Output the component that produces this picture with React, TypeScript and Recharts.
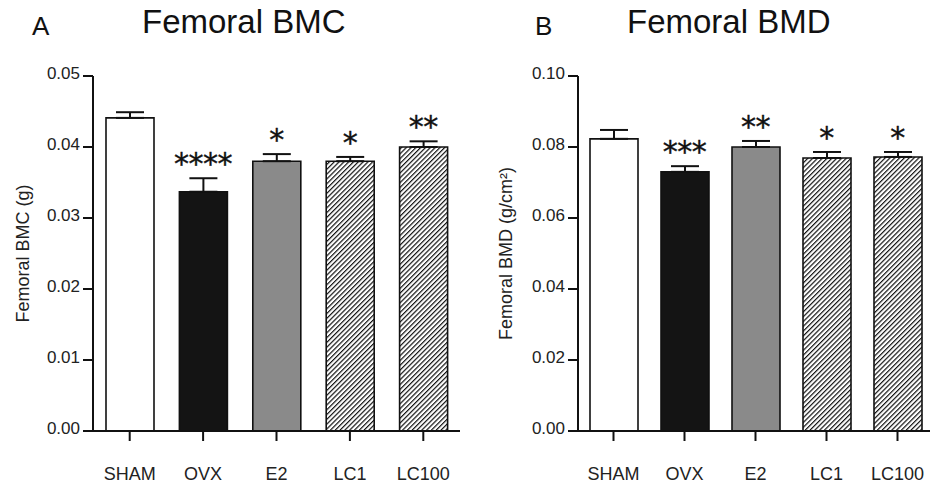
import React from "react";
import {
  ComposedChart,
  Bar,
  Line,
  XAxis,
  YAxis,
  Cell,
  ErrorBar,
  LabelList,
} from "recharts";

const groups = ["SHAM", "OVX", "E2", "LC1", "LC100"];

const bmcMean = [0.0441, 0.0337, 0.038, 0.038, 0.04];
const bmcSem = [0.0008, 0.0019, 0.001, 0.0006, 0.0008];
const bmcStars = ["", "****", "*", "*", "**"];
const bmcTicks = [0, 0.01, 0.02, 0.03, 0.04, 0.05];

const bmdMean = [0.0823, 0.073, 0.08, 0.0769, 0.0772];
const bmdSem = [0.0025, 0.0016, 0.0017, 0.0017, 0.0014];
const bmdStars = ["", "***", "**", "*", "*"];
const bmdTicks = [0, 0.02, 0.04, 0.06, 0.08, 0.1];

const FONT = "'Liberation Sans', Arial, sans-serif";
const INK = "#111";

const fills = ["#ffffff", "#141414", "#8a8a8a", "url(#hatch)", "url(#hatch)"];

function buildRows(mean: number[], sem: number[], stars: string[]) {
  return groups.map((g, i) => ({
    group: g,
    mean: mean[i],
    err: [0, sem[i]],
    top: mean[i] + sem[i],
    stars: stars[i],
  }));
}

const StarLabel = (props: any) => {
  const { x, y, value } = props;
  if (!value) return null;
  return (
    <text
      x={x}
      y={y - 4}
      textAnchor="middle"
      fontFamily="'DejaVu Sans', sans-serif"
      fontSize={30}
      letterSpacing={-0.5}
      stroke={INK}
      strokeWidth={0.4}
      fill={INK}
    >
      {value}
    </text>
  );
};

type PanelProps = {
  left: number;
  yAxisWidth: number;
  rightMargin: number;
  rows: ReturnType<typeof buildRows>;
  ticks: number[];
  yLabel: string;
  labelOffset: number;
};

function Panel({ left, yAxisWidth, rightMargin, rows, ticks, yLabel, labelOffset }: PanelProps) {
  return (
    <div style={{ position: "absolute", left, top: 0 }}>
      <ComposedChart
        width={470}
        height={488}
        data={rows}
        margin={{ top: 76, right: rightMargin, bottom: 17, left: 0 }}
      >
        <defs>
          <pattern
            id="hatch"
            patternUnits="userSpaceOnUse"
            width={3.4}
            height={3.4}
            patternTransform="rotate(45)"
          >
            <rect width={3.4} height={3.4} fill="#fff" />
            <line x1={0} y1={0} x2={0} y2={3.4} stroke={INK} strokeWidth={2.4} />
          </pattern>
        </defs>
        <XAxis
          dataKey="group"
          height={40}
          tickSize={10}
          tickMargin={26}
          axisLine={{ stroke: INK, strokeWidth: 2 }}
          tickLine={{ stroke: INK, strokeWidth: 2 }}
          tick={{ fontSize: 18, fill: "#222", fontFamily: FONT }}
          interval={0}
        />
        <YAxis
          width={yAxisWidth}
          domain={[ticks[0], ticks[ticks.length - 1]]}
          ticks={ticks}
          tickFormatter={(v: number) => v.toFixed(2)}
          tickSize={10}
          tickMargin={3}
          axisLine={{ stroke: INK, strokeWidth: 2 }}
          tickLine={{ stroke: INK, strokeWidth: 2 }}
          tick={{ fontSize: 17, fill: "#222", fontFamily: FONT, dy: -3 }}
          interval={0}
          label={{
            value: yLabel,
            angle: -90,
            position: "insideLeft",
            offset: labelOffset,
            style: { textAnchor: "middle", fontSize: 18, fill: "#222", fontFamily: FONT },
          }}
        />
        <Bar
          dataKey="mean"
          barSize={48}
          stroke={INK}
          strokeWidth={1.6}
          isAnimationActive={false}
        >
          {rows.map((r, i) => (
            <Cell key={r.group} fill={fills[i]} />
          ))}
          <ErrorBar dataKey="err" width={14} stroke={INK} strokeWidth={2} />
        </Bar>
        <Line
          dataKey="top"
          stroke="none"
          dot={false}
          activeDot={false}
          isAnimationActive={false}
        >
          <LabelList dataKey="stars" content={StarLabel} />
        </Line>
      </ComposedChart>
    </div>
  );
}

export default function App() {
  const bmcRows = buildRows(bmcMean, bmcSem, bmcStars);
  const bmdRows = buildRows(bmdMean, bmdSem, bmdStars);
  return (
    <div
      style={{
        position: "absolute",
        left: 0,
        top: 0,
        width: 930,
        height: 488,
        overflow: "hidden",
        background: "#fff",
      }}
    >
      <Panel
        left={0}
        yAxisWidth={93}
        rightMargin={10}
        rows={bmcRows}
        ticks={bmcTicks}
        yLabel="Femoral BMC (g)"
        labelOffset={23}
      />
      <Panel
        left={470}
        yAxisWidth={108}
        rightMargin={7}
        rows={bmdRows}
        ticks={bmdTicks}
        yLabel="Femoral BMD (g/cm²)"
        labelOffset={36}
      />
      <svg
        width={930}
        height={488}
        style={{ position: "absolute", left: 0, top: 0, pointerEvents: "none" }}
      >
        <text x={32} y={35} fontFamily={FONT} fontSize={26} fill={INK}>A</text>
        <text x={142} y={33} fontFamily={FONT} fontSize={33} fill={INK}>Femoral BMC</text>
        <text x={535} y={35} fontFamily={FONT} fontSize={26} fill={INK}>B</text>
        <text x={627} y={33} fontFamily={FONT} fontSize={33} fill={INK}>Femoral BMD</text>
      </svg>
    </div>
  );
}
